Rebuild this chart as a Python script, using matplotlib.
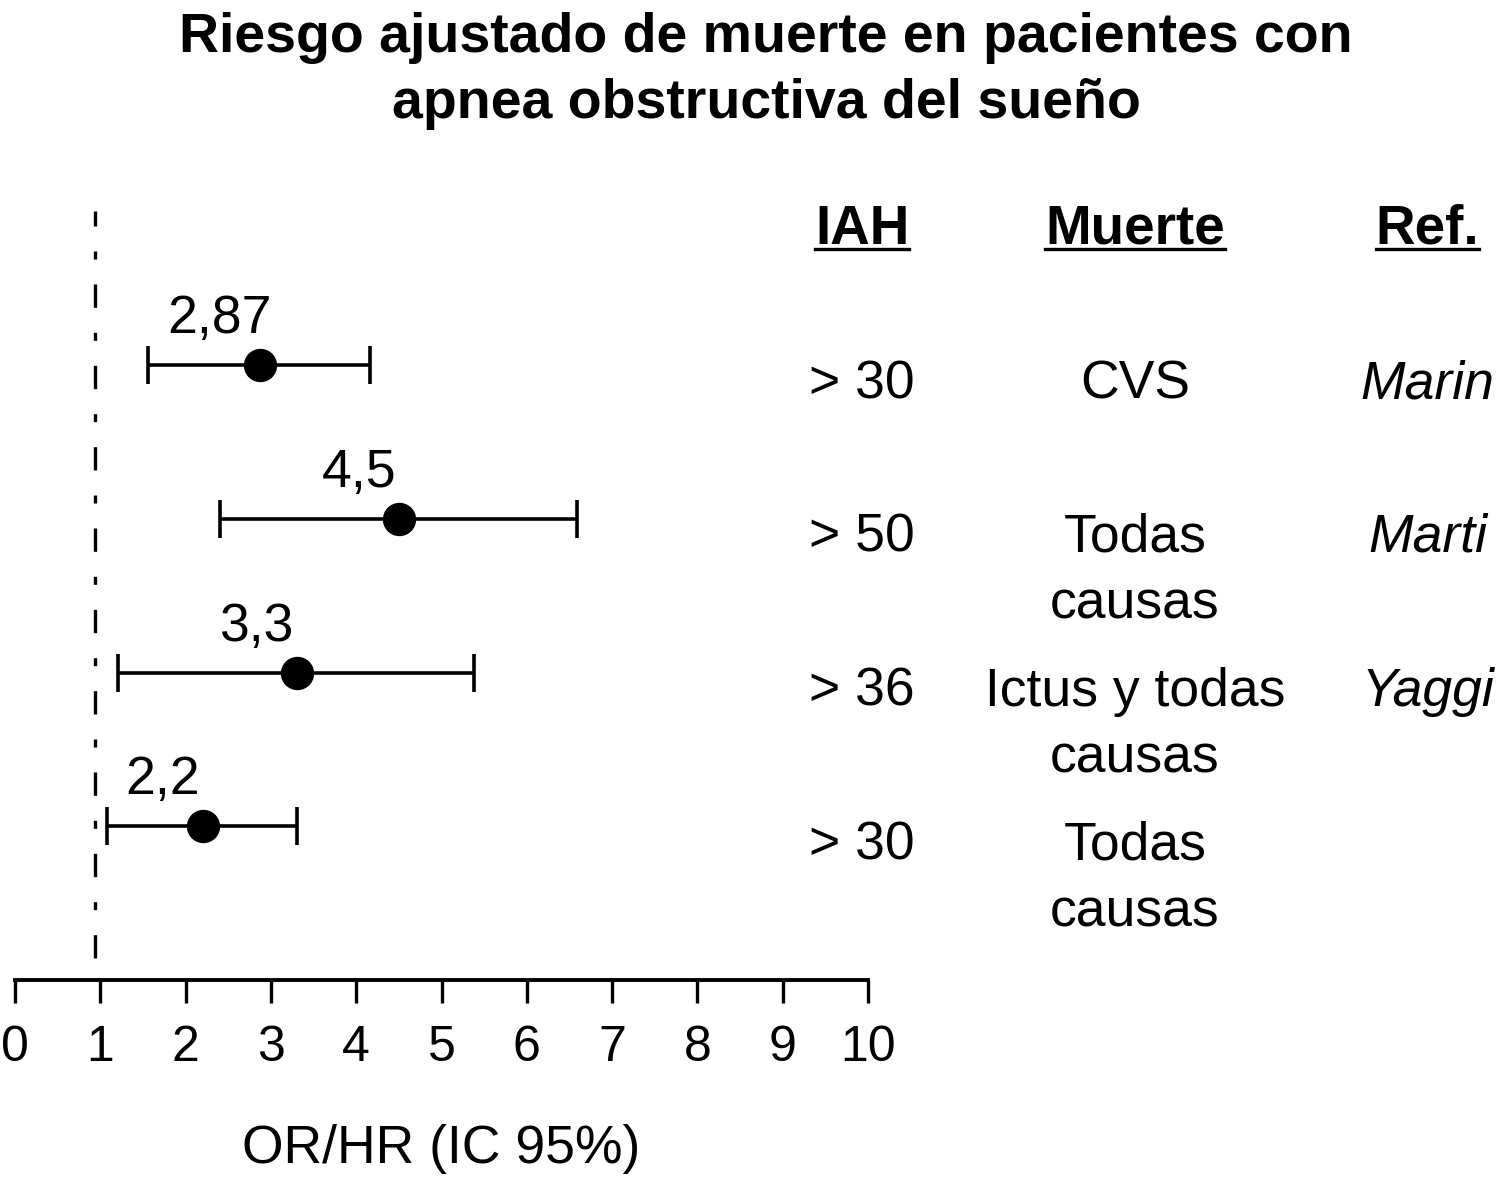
import matplotlib
matplotlib.use('Agg')
import matplotlib.pyplot as plt
from matplotlib.lines import Line2D

plt.rcParams['font.family'] = ['Liberation Sans', 'DejaVu Sans']

# datos
or_vals = [2.87, 4.5, 3.3, 2.2]
ci_low = [1.56, 2.40, 1.21, 1.08]
ci_high = [4.16, 6.59, 5.38, 3.31]
or_labels = ['2,87', '4,5', '3,3', '2,2']
iah = ['> 30', '> 50', '> 36', '> 30']
muerte = ['CVS', 'Todas\ncausas', 'Ictus y todas\ncausas', 'Todas\ncausas']
refs = ['Marin', 'Marti', 'Yaggi', '']
headers = ['IAH', 'Muerte', 'Ref.']
ref_line = 0.94
xticks = list(range(0, 11))

rows = [4, 3, 2, 1]
col_x = [9.93, 13.13, 16.56]

fig = plt.figure(figsize=(15, 11.87), dpi=100)
ax = fig.add_axes((0.01, 0.1744, 0.5687, 0.6605))
ax.set_xlim(0, 10)
ax.set_ylim(0, 5.1)

for s in ['top', 'right', 'left']:
    ax.spines[s].set_visible(False)
ax.spines['bottom'].set_linewidth(2.8)
ax.set_yticks([])
ax.set_xticks(xticks)
ax.tick_params(axis='x', direction='out', length=16.5, width=2.4, pad=16, labelsize=36)
ax.set_xlabel('OR/HR (IC 95%)', fontsize=38.5, labelpad=38)

# linea de referencia
ax.plot([ref_line, ref_line], [0.14, 5.0], color='k', lw=2.4,
        linestyle=(0, (7, 7.5, 2.4, 7.5)))

xerr = [[o - l for o, l in zip(or_vals, ci_low)],
        [h - o for o, h in zip(or_vals, ci_high)]]
ax.errorbar(or_vals, rows, xerr=xerr, fmt='o', ms=23, color='k', ecolor='k',
            elinewidth=2.6, capsize=14, capthick=2.6)

for x, y, lab in zip(or_vals, rows, or_labels):
    ax.annotate(lab, (x, y), xytext=(-40, 32), textcoords='offset pixels',
                ha='center', va='baseline', fontsize=38.5)

# tabla de la derecha
line_gap = 0.436
for y, a, m, r in zip(rows, iah, muerte, refs):
    yb = y - 0.215
    ax.text(col_x[0], yb, a, ha='center', va='baseline', fontsize=38.5, clip_on=False)
    for k, part in enumerate(m.split('\n')):
        ax.text(col_x[1], yb - k * line_gap, part, ha='center', va='baseline',
                fontsize=38.5, clip_on=False)
    if r:
        ax.text(col_x[2], yb, r, ha='center', va='baseline', fontsize=38.5,
                style='italic', clip_on=False)

head_txt = []
for cx, h in zip(col_x, headers):
    t = ax.text(cx, 4.79, h, ha='center', va='baseline', fontsize=39.5,
                fontweight='bold', clip_on=False)
    head_txt.append(t)

fig.text(0.5107, 0.956, 'Riesgo ajustado de muerte en pacientes con',
         ha='center', va='baseline', fontsize=40, fontweight='bold')
fig.text(0.5107, 0.9006, 'apnea obstructiva del sueño',
         ha='center', va='baseline', fontsize=40, fontweight='bold')

# subrayado de encabezados
fig.canvas.draw()
r = fig.canvas.get_renderer()
y_ul = fig.transFigure.inverted().transform(ax.transData.transform((0, 4.755)))[1]
for t in head_txt:
    bb = t.get_window_extent(r).transformed(fig.transFigure.inverted())
    fig.add_artist(Line2D([bb.x0, bb.x1], [y_ul, y_ul], color='k', lw=2.4,
                          transform=fig.transFigure))

plt.savefig('out.png', dpi=100)
